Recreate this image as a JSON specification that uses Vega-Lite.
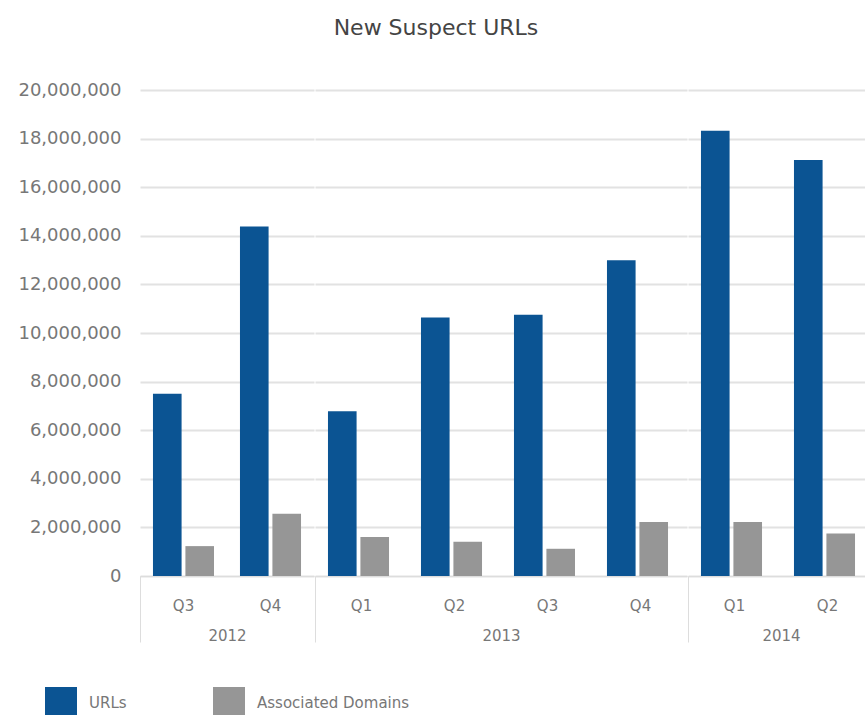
{
  "$schema": "https://vega.github.io/schema/vega-lite/v6.json",
  "background": "white",
  "padding": {"left": 17, "top": 17, "right": 0, "bottom": 0},
  "title": {"text": "New Suspect URLs", "fontSize": 22, "font": "DejaVu Sans", "fontWeight": "normal", "color": "#444444", "offset": 41, "anchor": "middle", "frame": "bounds", "dx": -10},
  "data": {"values": [
    {"year": "2012", "quarter": "Q3", "series": "URLs", "value": 7500000},
    {"year": "2012", "quarter": "Q3", "series": "Associated Domains", "value": 1230000},
    {"year": "2012", "quarter": "Q4", "series": "URLs", "value": 14380000},
    {"year": "2012", "quarter": "Q4", "series": "Associated Domains", "value": 2560000},
    {"year": "2013", "quarter": "Q1", "series": "URLs", "value": 6780000},
    {"year": "2013", "quarter": "Q1", "series": "Associated Domains", "value": 1600000},
    {"year": "2013", "quarter": "Q2", "series": "URLs", "value": 10640000},
    {"year": "2013", "quarter": "Q2", "series": "Associated Domains", "value": 1410000},
    {"year": "2013", "quarter": "Q3", "series": "URLs", "value": 10750000},
    {"year": "2013", "quarter": "Q3", "series": "Associated Domains", "value": 1120000},
    {"year": "2013", "quarter": "Q4", "series": "URLs", "value": 12990000},
    {"year": "2013", "quarter": "Q4", "series": "Associated Domains", "value": 2220000},
    {"year": "2014", "quarter": "Q1", "series": "URLs", "value": 18320000},
    {"year": "2014", "quarter": "Q1", "series": "Associated Domains", "value": 2220000},
    {"year": "2014", "quarter": "Q2", "series": "URLs", "value": 17120000},
    {"year": "2014", "quarter": "Q2", "series": "Associated Domains", "value": 1750000}
  ]},
  "config": {
    "view": {"stroke": null},
    "concat": {"spacing": 0},
    "font": "DejaVu Sans",
    "axis": {"labelFont": "DejaVu Sans", "titleFont": "DejaVu Sans"},
    "legend": {"labelFont": "DejaVu Sans"}
  },
  "resolve": {"scale": {"y": "shared", "color": "shared"}},
  "hconcat": [
    {
      "width": 174, "height": 486,
      "transform": [{"filter": "datum.year == '2012'"}],
      "mark": {"type": "bar"},
      "encoding": {
        "x": {"field": "quarter", "type": "nominal", "sort": null,
          "scale": {"paddingInner": 0, "paddingOuter": 0},
          "axis": {"title": "2012", "labelAngle": 0, "labelFontSize": 15, "labelColor": "#777777", "labelPadding": -44,
            "titleFontSize": 15, "titleFontWeight": "normal", "titleColor": "#777777", "titlePadding": -14,
            "domainColor": "#dddddd", "domainWidth": 1, "bandPosition": 0, "tickSize": 66, "tickColor": "#dddddd",
            "tickOpacity": {"condition": {"test": "datum.value == 'Q3'", "value": 1}, "value": 0}}},
        "xOffset": {"field": "series", "type": "nominal", "sort": ["URLs", "Associated Domains"],
          "scale": {"paddingInner": 0.118, "paddingOuter": 0.4}},
        "y": {"field": "value", "type": "quantitative",
          "scale": {"domain": [0, 20000000]},
          "axis": {"title": null, "values": [0, 2000000, 4000000, 6000000, 8000000, 10000000, 12000000, 14000000, 16000000, 18000000, 20000000],
            "labelExpr": "format(datum.value, ',')", "labelFontSize": 18, "labelColor": "#777777", "labelPadding": 19, "domain": false, "ticks": false,
            "gridColor": "#e2e2e2", "gridWidth": 2}},
        "color": {"field": "series", "type": "nominal",
          "scale": {"domain": ["URLs", "Associated Domains"], "range": ["#0b5493", "#969696"]},
          "legend": {"title": null, "orient": "none", "direction": "horizontal", "legendX": -95, "legendY": 597,
            "symbolType": "square", "symbolSize": 1024, "symbolStrokeWidth": 0, "symbolOpacity": 1,
            "labelFontSize": 15, "labelColor": "#777777", "labelOffset": 12, "columnPadding": 86}}
      }
    },
    {
      "width": 372, "height": 486,
      "transform": [{"filter": "datum.year == '2013'"}],
      "mark": {"type": "bar"},
      "encoding": {
        "x": {"field": "quarter", "type": "nominal", "sort": null,
          "scale": {"paddingInner": 0, "paddingOuter": 0},
          "axis": {"title": "2013", "labelAngle": 0, "labelFontSize": 15, "labelColor": "#777777", "labelPadding": -44,
            "titleFontSize": 15, "titleFontWeight": "normal", "titleColor": "#777777", "titlePadding": -14,
            "domainColor": "#dddddd", "domainWidth": 1, "bandPosition": 0, "tickSize": 66, "tickColor": "#dddddd",
            "tickOpacity": {"condition": {"test": "datum.value == 'Q1'", "value": 1}, "value": 0}}},
        "xOffset": {"field": "series", "type": "nominal", "sort": ["URLs", "Associated Domains"],
          "scale": {"paddingInner": 0.118, "paddingOuter": 0.4}},
        "y": {"field": "value", "type": "quantitative",
          "scale": {"domain": [0, 20000000]},
          "axis": {"title": null, "values": [0, 2000000, 4000000, 6000000, 8000000, 10000000, 12000000, 14000000, 16000000, 18000000, 20000000],
            "labels": false, "domain": false, "ticks": false, "minExtent": 0, "maxExtent": 0,
            "gridColor": "#e2e2e2", "gridWidth": 2}},
        "color": {"field": "series", "type": "nominal",
          "scale": {"domain": ["URLs", "Associated Domains"], "range": ["#0b5493", "#969696"]}}
      }
    },
    {
      "width": 186, "height": 486,
      "transform": [{"filter": "datum.year == '2014'"}],
      "mark": {"type": "bar"},
      "encoding": {
        "x": {"field": "quarter", "type": "nominal", "sort": null,
          "scale": {"paddingInner": 0, "paddingOuter": 0},
          "axis": {"title": "2014", "labelAngle": 0, "labelFontSize": 15, "labelColor": "#777777", "labelPadding": -44,
            "titleFontSize": 15, "titleFontWeight": "normal", "titleColor": "#777777", "titlePadding": -14,
            "domainColor": "#dddddd", "domainWidth": 1, "bandPosition": 0, "tickSize": 66, "tickColor": "#dddddd",
            "tickOpacity": {"condition": {"test": "datum.value == 'Q1'", "value": 1}, "value": 0}}},
        "xOffset": {"field": "series", "type": "nominal", "sort": ["URLs", "Associated Domains"],
          "scale": {"paddingInner": 0.118, "paddingOuter": 0.4}},
        "y": {"field": "value", "type": "quantitative",
          "scale": {"domain": [0, 20000000]},
          "axis": {"title": null, "values": [0, 2000000, 4000000, 6000000, 8000000, 10000000, 12000000, 14000000, 16000000, 18000000, 20000000],
            "labels": false, "domain": false, "ticks": false, "minExtent": 0, "maxExtent": 0,
            "gridColor": "#e2e2e2", "gridWidth": 2}},
        "color": {"field": "series", "type": "nominal",
          "scale": {"domain": ["URLs", "Associated Domains"], "range": ["#0b5493", "#969696"]}}
      }
    }
  ]
}
